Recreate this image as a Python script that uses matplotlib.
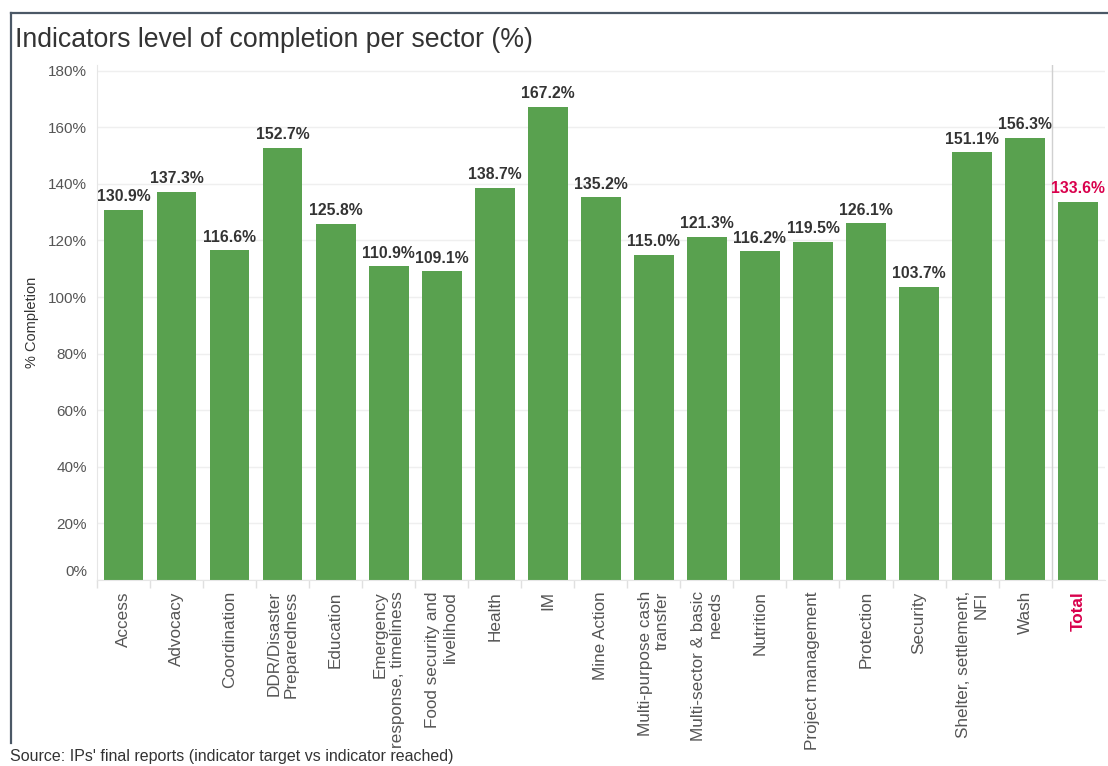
import matplotlib.pyplot as plt
import matplotlib.transforms as mtransforms
from matplotlib.lines import Line2D

plt.rcParams['font.family'] = ['Liberation Sans', 'DejaVu Sans']

# ==============================
# DATA
# ==============================
sectors = [
    "Access", "Advocacy", "Coordination", "DDR/Disaster\nPreparedness",
    "Education", "Emergency\nresponse, timeliness", "Food security and\nlivelihood",
    "Health", "IM", "Mine Action", "Multi-purpose cash\ntransfer",
    "Multi-sector & basic\nneeds", "Nutrition", "Project management",
    "Protection", "Security", "Shelter, settlement,\nNFI", "Wash", "Total",
]
completion = [
    130.9, 137.3, 116.6, 152.7, 125.8, 110.9, 109.1, 138.7, 167.2, 135.2,
    115.0, 121.3, 116.2, 119.5, 126.1, 103.7, 151.1, 156.3, 133.6,
]
y_ticks = [0, 20, 40, 60, 80, 100, 120, 140, 160, 180]

GREEN = "#59a14f"
RED = "#d9004c"
DARK = "#333333"
GREY = "#555555"

# ==============================
# PLOT
# ==============================
fig = plt.figure(figsize=(11.08, 7.66), dpi=100)
ax = fig.add_axes([0.0875, 0.2428, 0.9095, 0.6723])

x = list(range(len(sectors)))
ax.bar(x, completion, width=0.75, color=GREEN, zorder=2)

for xi, v, name in zip(x, completion, sectors):
    ax.annotate(f"{v:.1f}%", (xi, v), xytext=(0, 4), textcoords="offset points",
                ha="center", va="bottom", fontsize=11.3, fontweight="bold",
                color=RED if name == "Total" else DARK)

ax.set_xlim(-0.5, len(sectors) - 0.5)
ax.set_ylim(0, 182)

# separator before Total
ax.axvline(len(sectors) - 1.5, color="#d0d0d0", lw=1, zorder=1)

ax.set_yticks(y_ticks)
ax.set_yticklabels([f"{t}%" for t in y_ticks])
ax.tick_params(axis="y", length=0, pad=7, labelsize=11, labelcolor=GREY)
ax.yaxis.grid(True, color="#efefef", lw=1, zorder=0)
ax.set_axisbelow(True)

# nudge the 0% label upward like the original
lbl0 = ax.get_yticklabels()[0]
lbl0.set_transform(lbl0.get_transform() +
                   mtransforms.ScaledTranslation(0, 7 / 72, fig.dpi_scale_trans))

ax.set_xticks(x)
ax.set_xticklabels(sectors, rotation=90, va="top", ha="center",
                   multialignment="right", fontsize=12.3, color=GREY)
tl = ax.get_xticklabels()[-1]
tl.set_color(RED)
tl.set_fontweight("bold")
ax.tick_params(axis="x", which="major", length=0, pad=8)
ax.set_xticks([i - 0.5 for i in range(len(sectors))], minor=True)
ax.tick_params(axis="x", which="minor", length=6, color="#e0e0e0", width=1)

for side in ["top", "right"]:
    ax.spines[side].set_visible(False)
for side in ["left", "bottom"]:
    ax.spines[side].set_color("#e6e6e6")

ax.set_ylabel("% Completion", fontsize=10.5, color=DARK, labelpad=7)

fig.text(0.0135, 0.948, "Indicators level of completion per sector (%)",
         fontsize=19.2, color=DARK, ha="left", va="center")
fig.text(0.009, 0.013, "Source: IPs' final reports (indicator target vs indicator reached)",
         fontsize=11.5, color=DARK, ha="left", va="center")

# outer frame (top and left edges)
frame = "#4b5866"
fig.add_artist(Line2D([0.0095, 1.0], [0.983, 0.983], color=frame, lw=1.6,
                      transform=fig.transFigure))
fig.add_artist(Line2D([0.0095, 0.0095], [0.983, 0.030], color=frame, lw=1.6,
                      transform=fig.transFigure))

fig.savefig("out.png", dpi=100)
